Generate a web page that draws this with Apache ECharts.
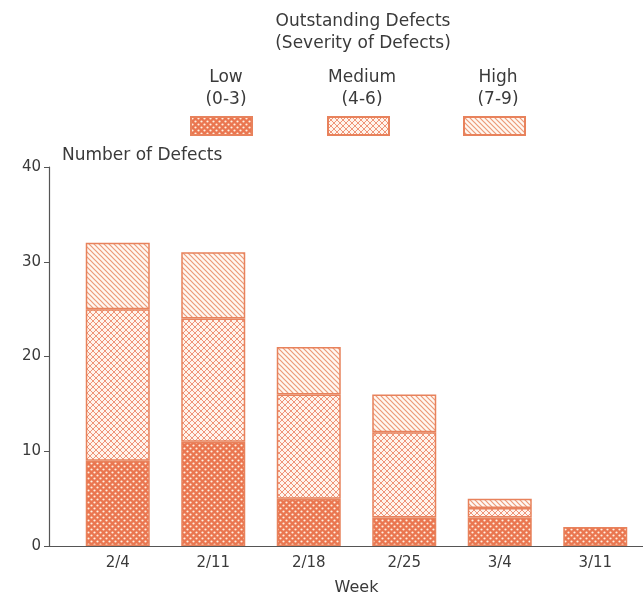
<!DOCTYPE html>
<html>
<head>
<meta charset="utf-8">
<script src="https://cdn.jsdelivr.net/npm/echarts@6/dist/echarts.min.js"></script>
<style>
  html,body{margin:0;padding:0;background:#fff;}
  #chart{width:643px;height:595px;}
</style>
</head>
<body>
<div id="chart"></div>
<script>
// data
var weeks = ['2/4', '2/11', '2/18', '2/25', '3/4', '3/11'];
var low = [9, 11, 5, 3, 3, 2];
var medium = [16, 13, 11, 9, 1, 0];
var high = [7, 7, 5, 4, 1, 0];

var edge = '#e8825c';
var ink = '#3a3a3a';
var font = 'DejaVu Sans, Verdana, sans-serif';

// hatch fills
function tile(w, h, draw) {
    var c = document.createElement('canvas');
    c.width = w; c.height = h;
    draw(c.getContext('2d'));
    return c;
}
var lowFill = tile(6, 6, function (g) {
    g.fillStyle = '#ea7650';
    g.fillRect(0, 0, 6, 6);
    g.fillStyle = '#fff0e2';
    g.beginPath(); g.arc(1.5, 1.5, 1.1, 0, Math.PI * 2); g.fill();
    g.beginPath(); g.arc(4.5, 4.5, 1.1, 0, Math.PI * 2); g.fill();
});
var medFill = tile(6, 6, function (g) {
    g.fillStyle = '#fff4ec';
    g.fillRect(0, 0, 6, 6);
    g.strokeStyle = '#ef9478';
    g.lineWidth = 1;
    g.beginPath();
    g.moveTo(0, 0); g.lineTo(6, 6);
    g.moveTo(6, 0); g.lineTo(0, 6);
    g.stroke();
});
var highFill = tile(5, 5, function (g) {
    g.fillStyle = '#fff8f2';
    g.fillRect(0, 0, 5, 5);
    g.strokeStyle = '#ec9a78';
    g.lineWidth = 1.2;
    g.beginPath();
    g.moveTo(-1, -1); g.lineTo(6, 6);
    g.moveTo(-1, 4); g.lineTo(1, 6);
    g.moveTo(4, -1); g.lineTo(6, 1);
    g.stroke();
});

function bar(name, arr, fill) {
    return {
        name: name,
        type: 'bar',
        stack: 'all',
        barWidth: 64,
        data: arr.map(function (v) { return v === 0 ? '-' : v; }),
        itemStyle: {
            color: { image: fill, repeat: 'repeat' },
            borderColor: edge,
            borderWidth: 1.5
        }
    };
}
function legendAt(name, left) {
    return {
        data: [name],
        left: left, top: 116,
        icon: 'rect',
        itemWidth: 61, itemHeight: 18,
        formatter: function () { return ''; },
        selectedMode: false,
        padding: 0
    };
}
var txt = { fontFamily: font, fontSize: 17, color: ink, fontWeight: 'normal', lineHeight: 22 };
var axisText = { fontFamily: font, fontSize: 15, color: ink };

var chart = echarts.init(document.getElementById('chart'));
chart.setOption({
    animation: false,
    backgroundColor: '#fff',
    title: [
        { text: 'Outstanding Defects\n(Severity of Defects)', left: 358, top: 6, textAlign: 'center', textStyle: txt },
        { text: 'Low\n(0-3)', left: 221, top: 62, textAlign: 'center', textStyle: txt },
        { text: 'Medium\n(4-6)', left: 357, top: 62, textAlign: 'center', textStyle: txt },
        { text: 'High\n(7-9)', left: 493, top: 62, textAlign: 'center', textStyle: txt }
    ],
    legend: [legendAt('Low', 190), legendAt('Medium', 327), legendAt('High', 463)],
    grid: [
        { left: 70, right: 0, top: 167, bottom: 49, outerBoundsMode: 'none' },   // bars
        { left: 49, right: 0, top: 167, bottom: 49, outerBoundsMode: 'none' }    // frame axes
    ],
    xAxis: [{
        type: 'category',
        gridIndex: 0,
        data: weeks,
        name: 'Week',
        nameLocation: 'middle',
        nameGap: 34,
        nameTextStyle: { fontFamily: font, fontSize: 16, color: ink },
        axisLine: { show: false },
        axisTick: { show: false },
        axisLabel: { fontFamily: font, fontSize: 15, color: ink, margin: 10 }
    }, {
        type: 'value',
        gridIndex: 1,
        min: 0, max: 1,
        axisLine: { show: true, onZero: false, lineStyle: { color: '#555', width: 1.2 } },
        axisTick: { show: false },
        axisLabel: { show: false },
        splitLine: { show: false }
    }],
    yAxis: [{
        type: 'value',
        gridIndex: 0,
        min: 0, max: 40, interval: 10,
        show: false
    }, {
        type: 'value',
        gridIndex: 1,
        min: 0, max: 40, interval: 10,
        name: 'Number of Defects',
        nameLocation: 'end',
        nameGap: 3,
        nameTextStyle: { fontFamily: font, fontSize: 17, color: ink, align: 'left', padding: [0, 0, 0, 13] },
        axisLine: { show: true, onZero: false, lineStyle: { color: '#555', width: 1.2 } },
        axisTick: { show: true, length: 5, lineStyle: { color: '#555' } },
        splitLine: { show: false },
        axisLabel: axisText
    }],
    series: [
        bar('Low', low, lowFill),
        bar('Medium', medium, medFill),
        bar('High', high, highFill)
    ]
});
</script>
</body>
</html>
